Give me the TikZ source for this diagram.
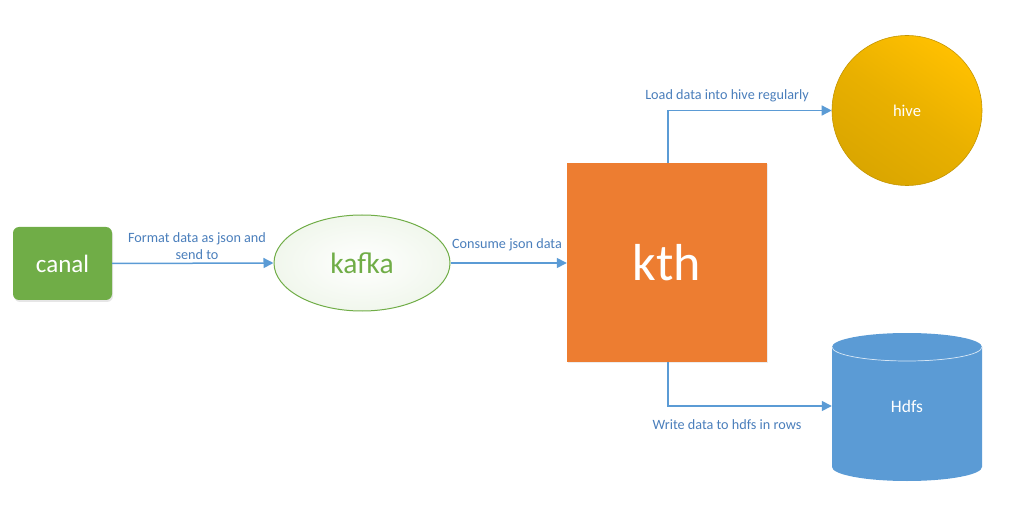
\documentclass[tikz,border=0pt]{standalone}
\usepackage{fontspec}
\setmainfont{Carlito}
\usetikzlibrary{arrows.meta,shadows,shapes.geometric}
\definecolor{cgreen}{HTML}{70AD47}
\definecolor{corange}{HTML}{ED7D31}
\definecolor{cblue}{HTML}{5B9BD5}
\definecolor{ctext}{HTML}{4A7EBB}
\definecolor{cgold1}{HTML}{FFC000}
\definecolor{cgold2}{HTML}{DAA600}
\tikzset{
  conn/.style={draw=cblue, line width=1.5pt, -{Triangle[length=10pt,width=10pt]}},
  lbl/.style={text=ctext, font=\fontsize{14.2}{17}\selectfont, align=center, inner sep=0pt},
}
\begin{document}
\begin{tikzpicture}[x=1pt,y=-1pt]
\useasboundingbox (0,0) rectangle (1010,505);
% canal
\node[draw=none, fill=cgreen, rounded corners=6pt, minimum width=99pt, minimum height=73pt, text=white, font=\fontsize{25}{28}\selectfont, drop shadow={opacity=0.2,shadow xshift=1pt,shadow yshift=-2pt}] (canal) at (62.5,263.5) {canal};
% kafka
\node[draw=cgreen, line width=1pt, ellipse, minimum width=176pt, minimum height=96pt, inner color=white, outer color=cgreen!10, text=cgreen, font=\fontsize{29.5}{33}\selectfont] (kafka) at (362,263) {kafka};
% kth
\node[fill=corange, minimum width=200pt, minimum height=199pt, text=white, font=\fontsize{52}{58}\selectfont, drop shadow={opacity=0.15,shadow xshift=1pt,shadow yshift=-1pt}] (kth) at (667,262.5) {kth};
% hive
\node[circle, draw=cgold2!90!black, line width=0.6pt, minimum size=150pt, shading=axis, top color=cgold1, bottom color=cgold2, middle color=cgold2!60!cgold1, shading angle=-35, text=white, font=\fontsize{16.5}{19}\selectfont] (hive) at (907,110.5) {hive};
% Hdfs cylinder
\fill[cblue] (832,347) arc[start angle=180,end angle=360,x radius=75pt,y radius=14pt] -- (982,467)
  arc[start angle=0,end angle=-180,x radius=75pt,y radius=14pt] -- cycle;
\fill[cblue] (907,347) ellipse[x radius=75pt,y radius=14pt];
\draw[white!75!cblue, line width=0.7pt] (832,347) arc[start angle=180,end angle=360,x radius=75pt,y radius=14pt];
\node[minimum width=150pt, minimum height=118pt, inner sep=0pt, text=white, font=\fontsize{17.5}{20}\selectfont] (hdfs) at (907,406) {Hdfs};
% connectors
\draw[conn] (canal.east) -- (kafka.west);
\draw[conn] (kafka.east) -- (kth.west |- kafka.east);
\coordinate (kthtop) at ([xshift=1pt]kth.north);
\coordinate (kthbot) at ([xshift=1pt]kth.south);
\draw[conn] (kthtop) |- (hive.west);
\draw[conn] (kthbot) |- (hdfs.west);
% labels
\node[lbl] (l1) at (197,246) {Format data as json and\\send to};
\node[lbl] (l2) at (507,245) {Consume json data};
\node[lbl] (l3) at (727,96) {Load data into hive regularly};
\node[lbl] (l4) at (727,425) {Write data to hdfs in rows};
\end{tikzpicture}
\end{document}
